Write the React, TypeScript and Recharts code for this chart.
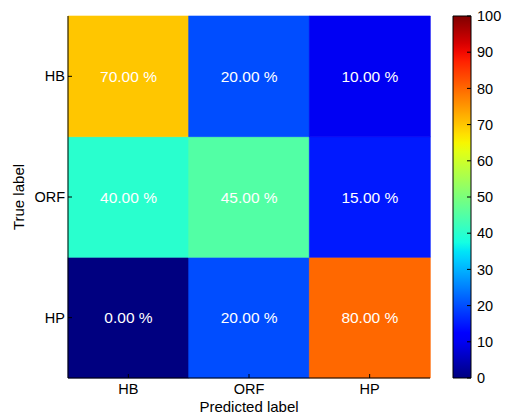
import React from 'react';
import { Bar, BarChart, Cell, LabelList, XAxis, YAxis } from 'recharts';

const predictedLabels = ['HB', 'ORF', 'HP'];
const trueLabels = ['HB', 'ORF', 'HP'];

// percentages, rows = true label, columns = predicted label
const rowHB = [70, 20, 10];
const rowORF = [40, 45, 15];
const rowHP = [0, 20, 80];
const matrix = [rowHB, rowORF, rowHP];

const colorbarTicks = [0, 10, 20, 30, 40, 50, 60, 70, 80, 90, 100];

const FONT = '"Liberation Sans", Arial, Helvetica, sans-serif';

// matplotlib jet segment data
const jetRed = [[0, 0], [0.35, 0], [0.66, 1], [0.89, 1], [1, 0.5]];
const jetGreen = [[0, 0], [0.125, 0], [0.375, 1], [0.64, 1], [0.91, 0], [1, 0]];
const jetBlue = [[0, 0.5], [0.11, 1], [0.34, 1], [0.65, 0], [1, 0]];

function interp(seg: number[][], t: number) {
  for (let i = 1; i < seg.length; i++) {
    if (t <= seg[i][0]) {
      const [x0, y0] = seg[i - 1];
      const [x1, y1] = seg[i];
      return y0 + ((t - x0) / (x1 - x0)) * (y1 - y0);
    }
  }
  return seg[seg.length - 1][1];
}

function jet(t: number) {
  const c = (s: number[][]) => Math.round(interp(s, Math.min(1, Math.max(0, t))) * 255);
  return `rgb(${c(jetRed)},${c(jetGreen)},${c(jetBlue)})`;
}

// one stacked column per predicted label; bottom row of the plot is the last true label
const stackOrder = trueLabels.map((_, i) => trueLabels.length - 1 - i);
const data = predictedLabels.map((name, col) => {
  const row: Record<string, string | number> = { name };
  trueLabels.forEach((t, r) => {
    row[`span_${t}`] = 1;
    row[`pct_${t}`] = matrix[r][col];
  });
  return row;
});

const rowTicks = trueLabels.map((_, i) => i + 0.5);
const rowTickLabel = (v: number) => trueLabels[trueLabels.length - 1 - Math.floor(v)];

const tickStyle = { fill: '#000', fontSize: 14.5, fontFamily: FONT };

const CellText = (props: any) => {
  const { x, y, width, height, value } = props;
  return (
    <text
      x={x + width / 2}
      y={y + height / 2}
      dy="0.36em"
      textAnchor="middle"
      fill="#fff"
      fontSize={15.5}
      fontFamily={FONT}
    >
      {`${Number(value).toFixed(2)} %`}
    </text>
  );
};

const noLabel = () => <g />;

function Heatmap() {
  return (
    <BarChart
      width={505}
      height={419}
      data={data}
      margin={{ top: 16, right: 75, bottom: 0, left: 10 }}
      barCategoryGap={0}
      barGap={0}
    >
      {stackOrder.map((r) => (
        <Bar key={trueLabels[r]} dataKey={`span_${trueLabels[r]}`} stackId="m" isAnimationActive={false}>
          {predictedLabels.map((p, c) => (
            <Cell key={p} fill={jet(matrix[r][c] / 100)} stroke={jet(matrix[r][c] / 100)} strokeWidth={0.6} />
          ))}
          <LabelList dataKey={`pct_${trueLabels[r]}`} content={CellText} />
        </Bar>
      ))}
      <XAxis
        dataKey="name"
        height={41}
        tickSize={-4}
        tickMargin={10}
        tick={tickStyle}
        axisLine={{ stroke: '#000' }}
        tickLine={{ stroke: '#000' }}
        label={{ value: 'Predicted label', position: 'insideBottom', offset: 7, fill: '#000', fontSize: 15, fontFamily: FONT }}
      />
      <XAxis
        xAxisId="top"
        dataKey="name"
        orientation="top"
        height={0}
        tickSize={-4}
        tick={noLabel}
        axisLine={{ stroke: '#000' }}
        tickLine={{ stroke: '#000' }}
      />
      <YAxis
        type="number"
        domain={[0, 3]}
        ticks={rowTicks}
        tickFormatter={rowTickLabel}
        width={58}
        tickSize={-4}
        tickMargin={7}
        tick={tickStyle}
        axisLine={{ stroke: '#000' }}
        tickLine={{ stroke: '#000' }}
        label={{
          value: 'True label',
          angle: -90,
          position: 'insideLeft',
          offset: 9,
          fill: '#000',
          fontSize: 15,
          fontFamily: FONT,
          style: { textAnchor: 'middle' },
        }}
      />
      <YAxis
        yAxisId="right"
        type="number"
        orientation="right"
        domain={[0, 3]}
        ticks={rowTicks}
        width={0}
        tickSize={-4}
        tick={noLabel}
        axisLine={{ stroke: '#000' }}
        tickLine={{ stroke: '#000' }}
      />
    </BarChart>
  );
}

const colorbarData = [{ name: 'scale', value: 100 }];
const gradientStops = colorbarTicks.map((v) => v / 100);

function Colorbar() {
  return (
    <BarChart
      width={505}
      height={419}
      data={colorbarData}
      margin={{ top: 16, right: 0, bottom: 41, left: 453 }}
      barCategoryGap={0}
    >
      <defs>
        <linearGradient id="jetGrad" x1="0" y1="1" x2="0" y2="0">
          {gradientStops.flatMap((s, i) =>
            i === 0
              ? [<stop key={i} offset={0} stopColor={jet(0)} />]
              : [0.25, 0.5, 0.75, 1].map((f) => {
                  const t = gradientStops[i - 1] + (s - gradientStops[i - 1]) * f;
                  return <stop key={`${i}-${f}`} offset={t} stopColor={jet(t)} />;
                })
          )}
        </linearGradient>
      </defs>
      <XAxis dataKey="name" hide />
      <YAxis
        type="number"
        orientation="right"
        domain={[0, 100]}
        ticks={colorbarTicks}
        width={34}
        tickSize={-4}
        tickMargin={10}
        tick={tickStyle}
        axisLine={false}
        tickLine={{ stroke: '#000' }}
      />
      <Bar dataKey="value" fill="url(#jetGrad)" stroke="#000" strokeWidth={1} isAnimationActive={false} />
    </BarChart>
  );
}

export default function App() {
  return (
    <div style={{ position: 'absolute', left: 0, top: 0, width: 505, height: 419, background: '#fff' }}>
      <div style={{ position: 'absolute', left: 0, top: 0 }}>
        <Heatmap />
      </div>
      <div style={{ position: 'absolute', left: 0, top: 0 }}>
        <Colorbar />
      </div>
    </div>
  );
}
